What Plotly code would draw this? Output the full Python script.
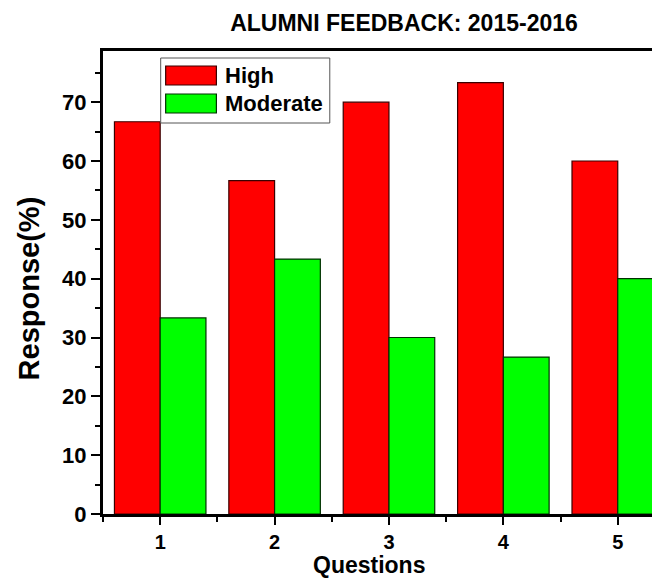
import plotly.graph_objects as go

questions = [1, 2, 3, 4, 5]
high = [66.67, 56.67, 70.0, 73.33, 60.0]
moderate = [33.33, 43.33, 30.0, 26.67, 40.0]
series_names = ["High", "Moderate"]
colors = ["#ff0000", "#00ff00"]
edge_colors = ["#3a0000", "#003000"]
y_ticks = [0, 10, 20, 30, 40, 50, 60, 70]

FONT = "Liberation Sans, Arial, sans-serif"
W, H = 660, 580
L, R, T, B = 95, 0, 43, 74
PW, PH = W - L - R, H - T - B


def px(x):
    return (x - L) / PW


def py(y):
    return (H - B - y) / PH


fig = go.Figure()
for name, vals, c, ec in zip(series_names, [high, moderate], colors, edge_colors):
    fig.add_trace(go.Bar(x=questions, y=vals, name=name, marker_color=c,
                         marker_line=dict(color=ec, width=1.2), showlegend=False))

# Origin-style legend box
fig.add_shape(type="rect", xref="paper", yref="paper", x0=px(153), x1=px(323), y0=py(115), y1=py(50),
              line=dict(color="#555555", width=1), fillcolor="white", layer="above")
sw_y = [(58, 77), (86, 105)]
for (name, c, ec), (ya, yb) in zip(zip(series_names, colors, edge_colors), sw_y):
    fig.add_shape(type="rect", xref="paper", yref="paper", x0=px(158), x1=px(209),
                  y0=py(yb), y1=py(ya), line=dict(color=ec, width=1.2), fillcolor=c, layer="above")
    fig.add_annotation(x=px(216), y=py((ya + yb) / 2), xref="paper", yref="paper", text=name,
                       showarrow=False, xanchor="left", yanchor="middle",
                       font=dict(family=FONT, size=22, color="black", weight="bold"))

# axis titles
fig.add_annotation(x=px(362), y=py(557), xref="paper", yref="paper", text="Questions",
                   showarrow=False, xanchor="center", yanchor="middle",
                   font=dict(family=FONT, size=23, color="black", weight="bold"))
fig.add_annotation(x=px(21), y=py(280), xref="paper", yref="paper", text="Response(%)",
                   showarrow=False, xanchor="center", yanchor="middle", textangle=-90,
                   font=dict(family=FONT, size=29, color="black", weight="bold"))

fig.update_layout(
    width=W, height=H,
    margin=dict(l=L, r=R, t=T, b=B),
    paper_bgcolor="white", plot_bgcolor="white",
    barmode="group", bargap=0.2, bargroupgap=0,
    font=dict(family=FONT, color="black"),
    title=dict(text="ALUMNI FEEDBACK: 2015-2016", x=396 / W, xanchor="center",
               y=1 - 15 / H, yanchor="middle", font=dict(family=FONT, size=23, color="black", weight="bold")),
)
fig.update_xaxes(
    range=[0.5, 0.5 + PW / 115.0], tickvals=questions, ticktext=[str(q) for q in questions],
    ticks="outside", ticklen=8, tickwidth=2, tickcolor="black",
    minor=dict(tickvals=[0.5, 1.5, 2.5, 3.5, 4.5], ticks="outside", ticklen=5, tickwidth=2, tickcolor="black"),
    showline=True, linewidth=3, linecolor="black", mirror=True, showgrid=False, zeroline=False,
    tickfont=dict(family=FONT, size=20, color="black", weight="bold"),
)
fig.update_yaxes(
    range=[0, 78.7], tickvals=y_ticks, ticktext=[str(v) for v in y_ticks],
    ticks="outside", ticklen=9, tickwidth=2, tickcolor="black",
    minor=dict(dtick=5, ticks="outside", ticklen=5, tickwidth=2, tickcolor="black"),
    showline=True, linewidth=3, linecolor="black", mirror=True, showgrid=False, zeroline=False,
    tickfont=dict(family=FONT, size=22, color="black", weight="bold"),
)

fig.write_html("out.html")
